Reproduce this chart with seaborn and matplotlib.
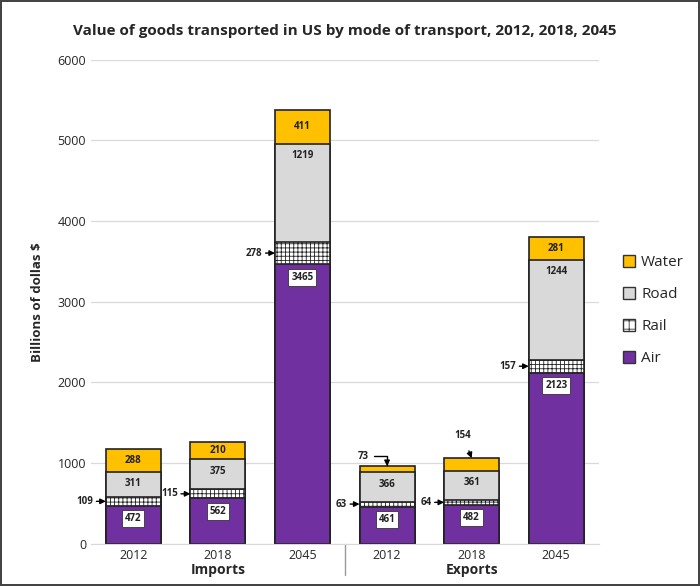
import numpy as np
import pandas as pd
import matplotlib
matplotlib.use('Agg')
import matplotlib.pyplot as plt
import matplotlib.transforms as mtransforms
from matplotlib.patches import Patch
import seaborn as sns

# data (billions of dollars)
bars = ['Imports 2012', 'Imports 2018', 'Imports 2045', 'Exports 2012', 'Exports 2018', 'Exports 2045']
tick_labels = ['2012', '2018', '2045', '2012', '2018', '2045']
groups = ['Imports', 'Exports']
air = [472, 562, 3465, 461, 482, 2123]
rail = [109, 115, 278, 63, 64, 157]
road = [311, 375, 1219, 366, 361, 1244]
water = [288, 210, 411, 73, 154, 281]

df = pd.DataFrame({'bar': bars, 'Air': air, 'Rail': rail, 'Road': road, 'Water': water})
df['cum_air'] = df['Air']
df['cum_rail'] = df['cum_air'] + df['Rail']
df['cum_road'] = df['cum_rail'] + df['Road']
df['cum_water'] = df['cum_road'] + df['Water']

sns.set_style('white')
plt.rcParams['font.family'] = ['Open Sans', 'DejaVu Sans']

fig = plt.figure(figsize=(7, 5.86), dpi=100, linewidth=1.5, edgecolor='#444444')
ax = fig.add_axes([0.13, 0.072, 0.725, 0.826])

w = 0.65
ec = '#222222'
# draw tallest first, overlay lower stacks
sns.barplot(data=df, x='bar', y='cum_water', order=bars, color='#FFC000', width=w,
            edgecolor=ec, linewidth=1.2, saturation=1, ax=ax)
sns.barplot(data=df, x='bar', y='cum_road', order=bars, color='#D9D9D9', width=w,
            edgecolor=ec, linewidth=1.2, saturation=1, ax=ax)
plt.rcParams['hatch.color'] = '#555555'
plt.rcParams['hatch.linewidth'] = 0.6
sns.barplot(data=df, x='bar', y='cum_rail', order=bars, color='white', width=w,
            edgecolor=ec, linewidth=1.2, saturation=1, hatch='++++', ax=ax)
for p in ax.patches[-6:]:
    p.set_hatch('++++')
    p.set_edgecolor(ec)
sns.barplot(data=df, x='bar', y='cum_air', order=bars, color='#7030A0', width=w,
            edgecolor=ec, linewidth=1.2, saturation=1, ax=ax)

ax.set_ylim(0, 6000)
ax.set_xlim(-0.5, 5.5)
ax.set_yticks(np.arange(0, 6001, 1000))
ax.yaxis.grid(True, color='#D9D9D9', linewidth=0.9)
ax.set_axisbelow(True)
for s in ['top', 'right', 'left']:
    ax.spines[s].set_visible(False)
ax.spines['bottom'].set_color('#D9D9D9')
ax.set_xticks(range(len(bars)))
ax.set_xticklabels(tick_labels, fontsize=9)
ax.tick_params(axis='y', labelsize=9, length=0)
ax.tick_params(axis='x', length=0, pad=4)
ax.set_xlabel('')
ax.set_ylabel('Billions of dollas $', fontsize=9.5, fontweight='bold', labelpad=10)
ax.set_title('Value of goods transported in US by mode of transport, 2012, 2018, 2045',
             fontsize=11, fontweight='bold', pad=18)

# group labels and separator
trans = mtransforms.blended_transform_factory(ax.transData, ax.transAxes)
ax.text(1, -0.055, groups[0], transform=trans, ha='center', va='center', fontsize=10, fontweight='bold')
ax.text(4, -0.055, groups[1], transform=trans, ha='center', va='center', fontsize=10, fontweight='bold')
ax.plot([2.5, 2.5], [0, -0.065], transform=trans, color='#999999', linewidth=1, clip_on=False)

lab = dict(ha='center', va='center', fontsize=7, fontweight='bold', color='#222222')
for i in range(len(bars)):
    # air label in white box
    ax.text(i, air[i] - 160, str(air[i]),
            bbox=dict(boxstyle='square,pad=0.3', facecolor='white', edgecolor='#333333', linewidth=0.6), **lab)
    ax.text(i, df['cum_road'][i] - 150, str(road[i]), **lab)
    # rail via arrow from left
    ymid = air[i] + rail[i] / 2
    ax.annotate(str(rail[i]), xy=(i - w / 2, ymid), xytext=(i - w / 2 - 0.15, ymid),
                ha='right', va='center', fontsize=7, fontweight='bold', color='#222222',
                arrowprops=dict(arrowstyle='-|>', color='black', lw=1, mutation_scale=8,
                                shrinkA=0, shrinkB=0))
    # water
    if water[i] > 150 and i != 4:
        ax.text(i, df['cum_road'][i] + water[i] / 2, str(water[i]), **lab)

# small water segments annotated
ax.annotate(str(water[3]), xy=(3, df['cum_water'][3]), xytext=(3 - 0.28, df['cum_water'][3] + 120),
            ha='center', va='center', fontsize=7, fontweight='bold', color='#222222',
            arrowprops=dict(arrowstyle='-|>', color='black', lw=1, mutation_scale=8,
                            shrinkA=1, shrinkB=0, connectionstyle='angle,angleA=0,angleB=90,rad=0'))
ax.annotate(str(water[4]), xy=(4, df['cum_water'][4]), xytext=(3.9, df['cum_water'][4] + 280),
            ha='center', va='center', fontsize=7, fontweight='bold', color='#222222',
            arrowprops=dict(arrowstyle='-|>', color='black', lw=1, mutation_scale=8,
                            shrinkA=5, shrinkB=0))

handles = [Patch(facecolor='#FFC000', edgecolor='#333333', label='Water'),
           Patch(facecolor='#D9D9D9', edgecolor='#333333', label='Road'),
           Patch(facecolor='white', edgecolor='#333333', hatch='++', label='Rail'),
           Patch(facecolor='#7030A0', edgecolor='#333333', label='Air')]
fig.legend(handles=handles, loc='center left', bbox_to_anchor=(0.87, 0.47), frameon=False,
           fontsize=11, handlelength=0.8, handleheight=0.8, handletextpad=0.4, labelspacing=1.1)

fig.savefig('out.png', dpi=100, edgecolor=fig.get_edgecolor())
